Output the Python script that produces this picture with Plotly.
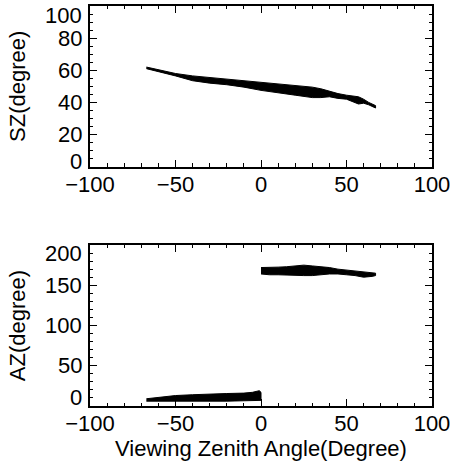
import plotly.graph_objects as go
from plotly.subplots import make_subplots

# ---- Data (envelopes of dense scatter bands) ----
# Top panel: Solar zenith (SZ) vs viewing zenith angle (VZA)
sz_vza   = [-67, -60, -50, -40, -30, -20, -10, 0, 10, 20, 30, 35, 40, 45, 50, 55, 57, 60, 63, 67]
sz_upper = [62, 60.5, 58, 56.5, 55.5, 54.5, 53.5, 52.5, 51.5, 50.5, 49.5, 48.5, 47, 45.5, 44.5, 44, 43.5, 42, 40, 38]
sz_lower = [61, 59, 56.5, 53.5, 52, 51, 49.5, 47.5, 46, 44.5, 43, 43, 43.5, 42.5, 42, 40, 39, 39.5, 38.5, 36.5]

# Bottom panel: relative azimuth (AZ), backward-scan branch (VZA < 0)
az_neg_vza   = [-67, -62, -55, -50, -40, -30, -20, -10, -5, -1, 0]
az_neg_upper = [9, 10, 12, 13, 14, 15, 15.5, 16, 17, 19, 17]
az_neg_lower = [6, 6, 5.5, 5.5, 5.5, 6, 6, 6.5, 7, 7, 7]

# Bottom panel: forward-scan branch (VZA > 0)
az_pos_vza   = [0, 5, 10, 15, 20, 25, 30, 35, 40, 45, 50, 55, 60, 65, 67]
az_pos_upper = [172, 172, 172.5, 173, 174, 175, 174, 173, 172, 170, 169, 168, 167, 166, 165]
az_pos_lower = [164, 163, 163, 163, 162.5, 162, 162, 163, 164, 164, 163, 162, 160, 161, 162]

x_ticks = [-100, -50, 0, 50, 100]
sz_ticks = [0, 20, 40, 60, 80, 100]
az_ticks = [0, 50, 100, 150, 200]

FONT = "Liberation Sans, Arial, sans-serif"
TICK_FONT = dict(family=FONT, size=22, color="black")
TITLE_FONT = dict(family=FONT, size=22, color="black")

# Style: pixel nudges of the end tick labels (the original draws them inset from the frame)
SZ_END_SHIFT = (5, -9)    # (first label up, last label down)
AZ_END_SHIFT = (9, -9)


def band(x, up, lo):
    return go.Scatter(
        x=list(x) + list(x)[::-1],
        y=list(up) + list(lo)[::-1],
        fill="toself", fillcolor="black",
        mode="lines", line=dict(color="black", width=1),
        hoverinfo="skip", showlegend=False,
    )


fig = make_subplots(rows=2, cols=1)
fig.add_trace(band(sz_vza, sz_upper, sz_lower), row=1, col=1)
fig.add_trace(band(az_neg_vza, az_neg_upper, az_neg_lower), row=2, col=1)
fig.add_trace(band(az_pos_vza, az_pos_upper, az_pos_lower), row=2, col=1)

axis_common = dict(
    showline=True, linecolor="black", linewidth=1.5, mirror="allticks",
    ticks="inside", ticklen=7, tickwidth=1.2, tickcolor="black",
    showgrid=False, zeroline=False, automargin=False,
    tickfont=TICK_FONT,
    minor=dict(ticks="inside", ticklen=3.5, tickwidth=1, tickcolor="black", nticks=5),
)

fig.update_xaxes(range=[-100, 100], tickvals=x_ticks, ticklabelstandoff=-3, **axis_common)
fig.update_xaxes(
    title=dict(text="Viewing Zenith Angle(Degree)", font=TITLE_FONT, standoff=4),
    row=2, col=1,
)
fig.update_yaxes(range=[0, 100], tickvals=sz_ticks, domain=[0.5983, 1.0], showticklabels=False,
                 title=dict(text="SZ(degree)", font=TITLE_FONT, standoff=57),
                 row=1, col=1, **axis_common)
fig.update_yaxes(range=[0, 200], tickvals=az_ticks, domain=[0.0, 0.4025], showticklabels=False,
                 title=dict(text="AZ(degree)", font=TITLE_FONT, standoff=57),
                 row=2, col=1, **axis_common)


def y_labels(ticks, yref, end_shift):
    out = []
    for i, v in enumerate(ticks):
        shift = end_shift[0] if i == 0 else (end_shift[1] if i == len(ticks) - 1 else 0)
        out.append(dict(
            x=0, xref="paper", xanchor="right", xshift=-6,
            y=v, yref=yref, yanchor="middle", yshift=shift,
            text=str(v), showarrow=False, font=TICK_FONT,
        ))
    return out


fig.update_layout(
    width=451, height=465,
    margin=dict(l=90, r=19, t=6, b=59),
    paper_bgcolor="white", plot_bgcolor="white",
    showlegend=False,
    annotations=y_labels(sz_ticks, "y", SZ_END_SHIFT) + y_labels(az_ticks, "y2", AZ_END_SHIFT),
)

fig.write_html("out.html")
